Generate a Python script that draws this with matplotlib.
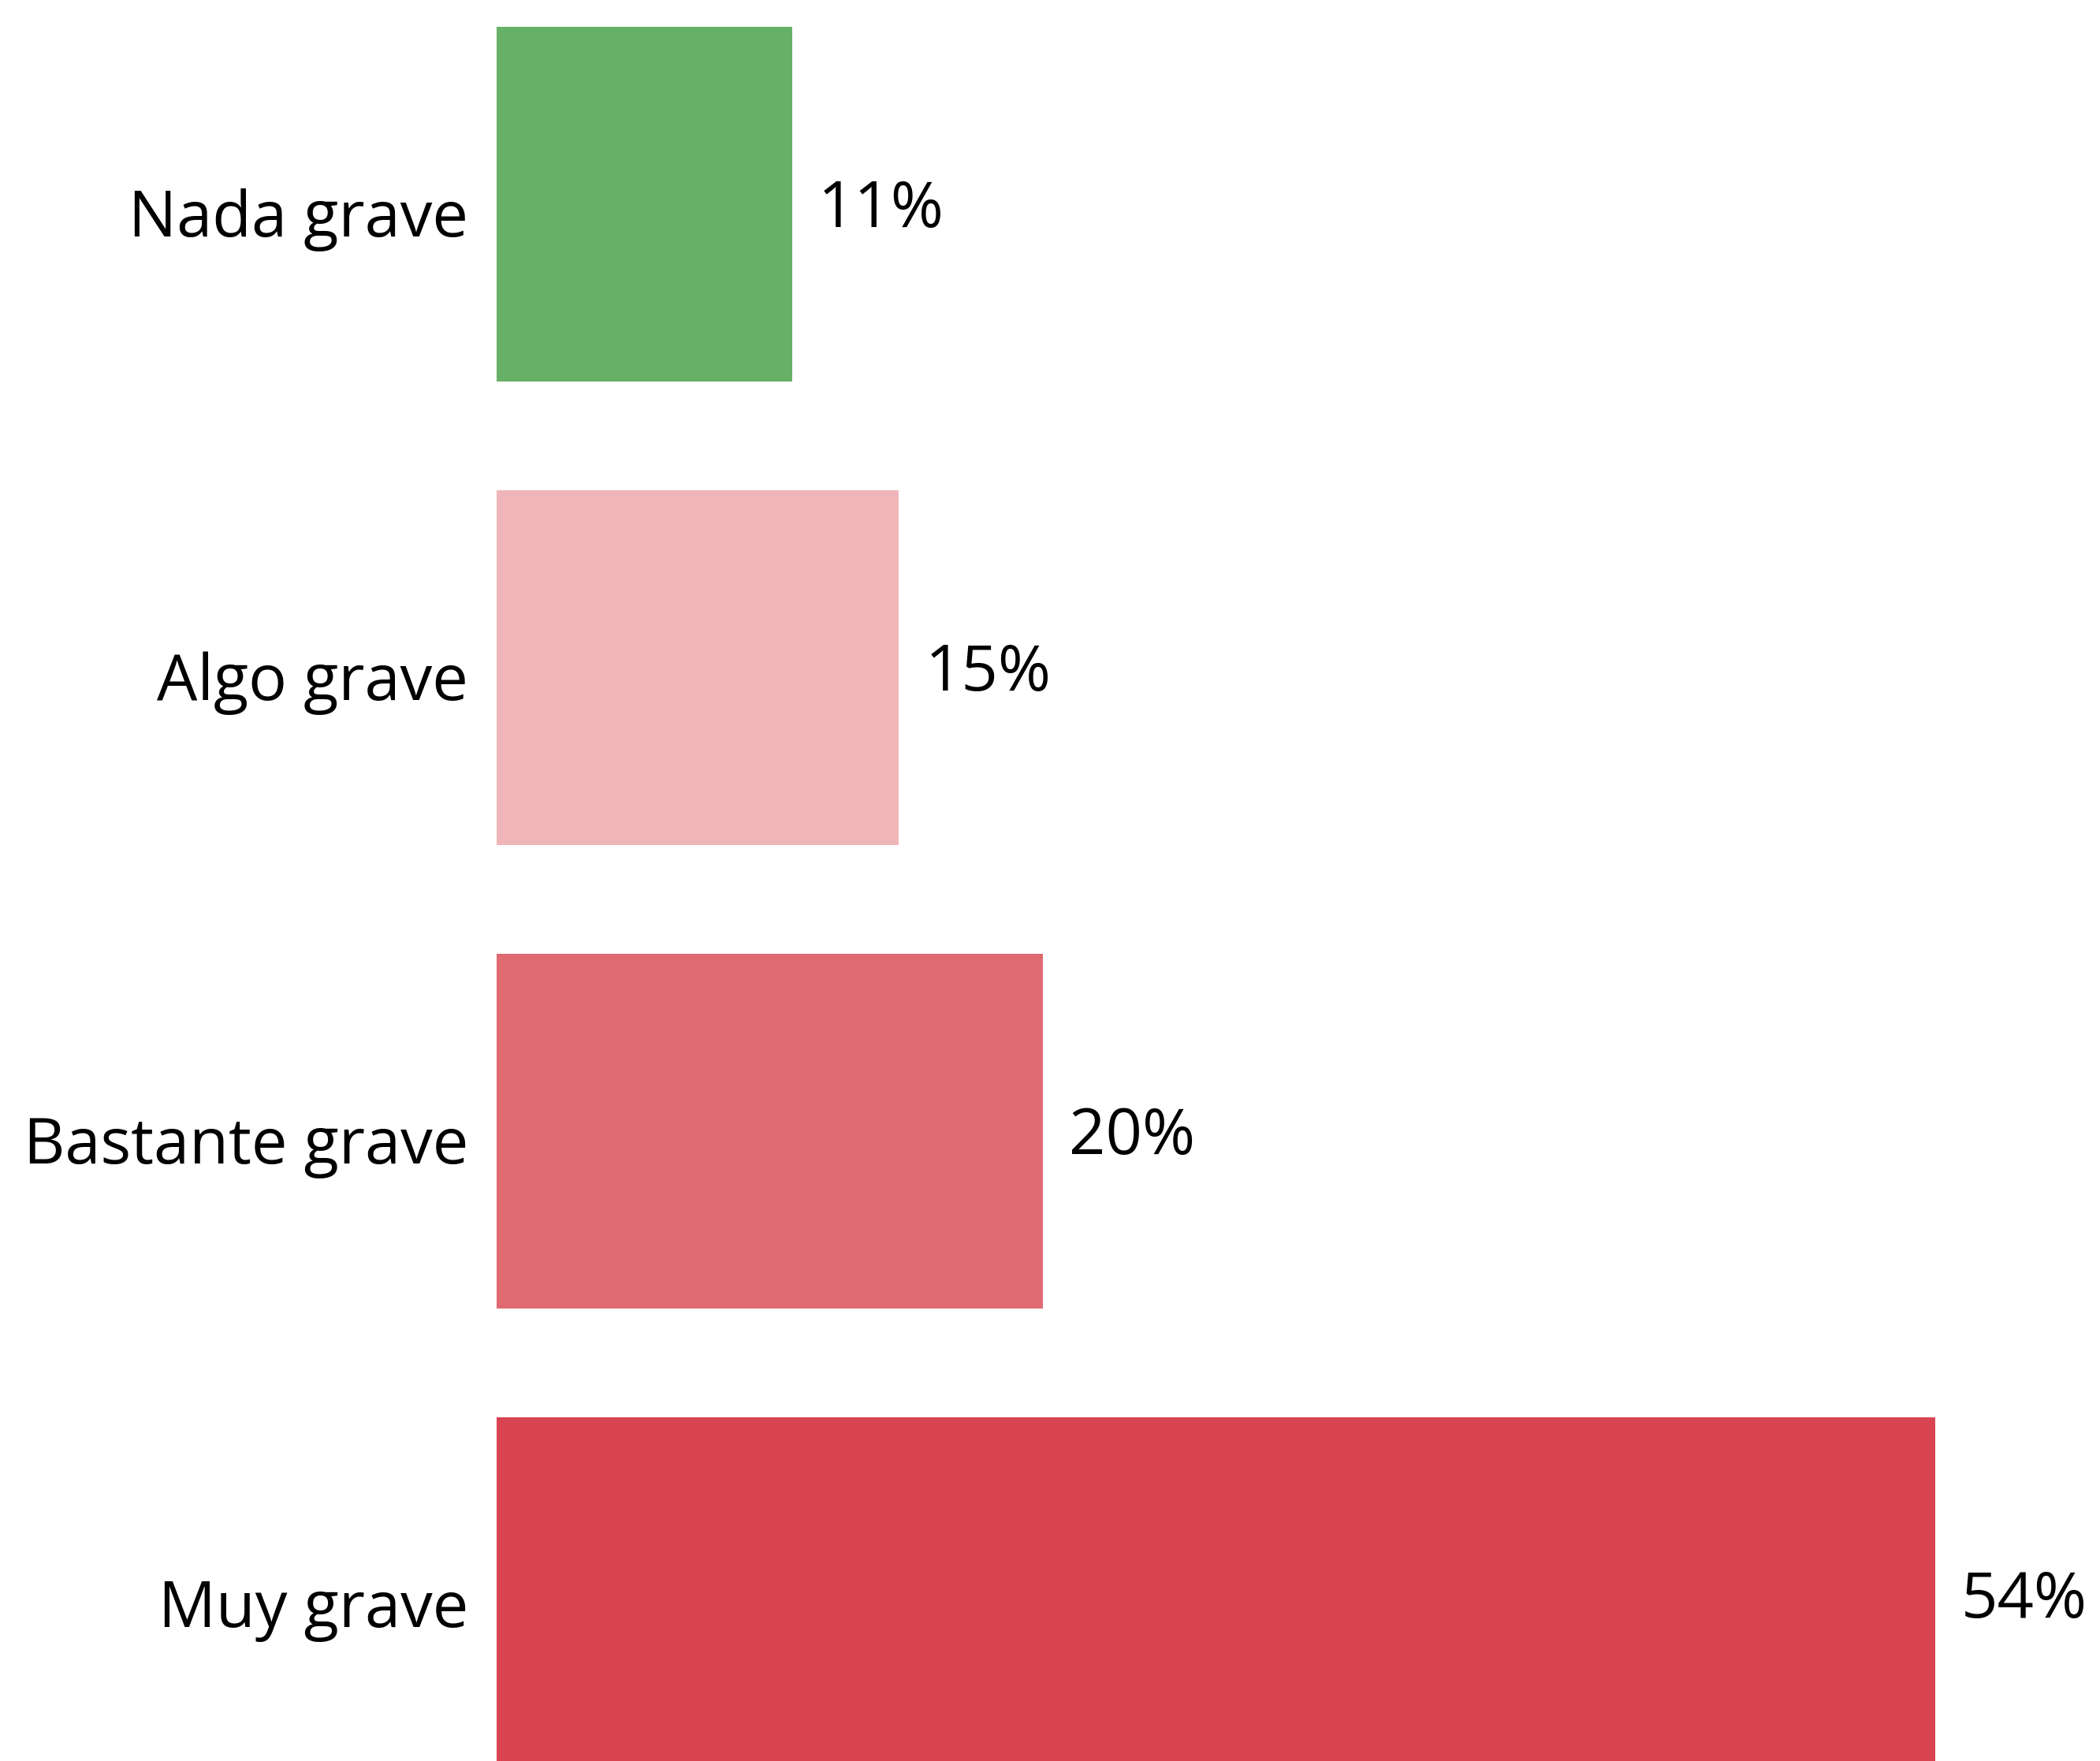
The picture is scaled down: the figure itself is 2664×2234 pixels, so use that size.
import matplotlib
matplotlib.use("Agg")
import matplotlib.pyplot as plt
from matplotlib.transforms import ScaledTranslation

categories = ["Nada grave", "Algo grave", "Bastante grave", "Muy grave"]
values = [11.1, 15.1, 20.5, 54.0]
value_labels = ["11%", "15%", "20%", "54%"]
colors = ["#67B067", "#F0B5B9", "#DF6A72", "#D84551"]

W, H, DPI = 2664, 2234, 100
plt.rcParams['font.family'] = ['Open Sans', 'DejaVu Sans']

fig = plt.figure(figsize=(W / DPI, H / DPI), dpi=DPI)
left_px = 630
ax = fig.add_axes([left_px / W, 0, 1 - left_px / W, 1])

bar_h = 450 / 588
pos = list(range(len(categories)))
ax.barh(pos, values, height=bar_h, color=colors)

top = -bar_h / 2 - 34 / 588
ax.set_ylim(top + H / 588, top)
px_per_unit = 1825 / 54.0
ax.set_xlim(0, (W - left_px) / px_per_unit)

FS = 58.5
for s in ax.spines.values():
    s.set_visible(False)
ax.set_xticks([])
ax.set_yticks(pos)
ax.set_yticklabels(categories, fontsize=FS)
ax.tick_params(axis='y', length=0, pad=26)
shift = ScaledTranslation(0, -10 / DPI, fig.dpi_scale_trans)
for t in ax.get_yticklabels():
    t.set_transform(t.get_transform() + shift)

for p, v, lab in zip(pos, values, value_labels):
    ax.annotate(lab, (v, p), xytext=(33, -8), textcoords='offset pixels',
                ha='left', va='center', fontsize=FS)

fig.savefig("out.png", dpi=DPI, facecolor="white")
